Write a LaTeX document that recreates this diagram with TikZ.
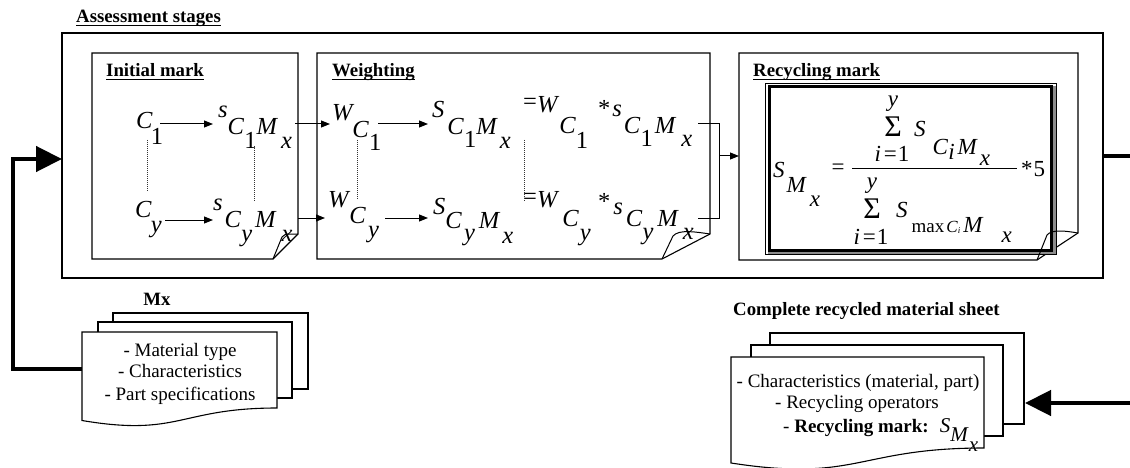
\documentclass[tikz,border=0pt]{standalone}
\usepackage{fontspec}
\setmainfont{Liberation Serif}
\usetikzlibrary{arrows.meta,calc}
\newcommand\lw[2][17pt]{\raisebox{-#1}{#2}}
\newcommand\iv[1]{\textit{#1}}
\begin{document}
\begin{tikzpicture}[x=1pt,y=-1pt,
  box/.style={line width=1.1pt, fill=white},
  frame/.style={line width=1.3pt},
  lbl/.style={font=\fontsize{18.8}{21}\selectfont\bfseries, inner sep=0pt, anchor=base west},
  uline/.style={line width=1.1pt},
  mth/.style={font=\fontsize{24.5}{28}\selectfont, inner sep=0pt, anchor=base west},
  fml/.style={font=\fontsize{23}{27}\selectfont, inner sep=0pt, anchor=base west},
  sig/.style={font=\fontsize{30}{33}\selectfont, inner sep=0pt, anchor=base},
  doct/.style={font=\fontsize{19}{22}\selectfont, inner sep=0pt, anchor=base},
  arr/.style={line width=1pt, -{Triangle[length=9pt,width=7pt]}},
  link/.style={line width=1pt},
  big/.style={line width=4.5pt, -{Triangle[length=26pt,width=25pt]}},
  dots/.style={line width=0.9pt, dash pattern=on 1pt off 1pt, black!80},
]
\useasboundingbox (0,0) rectangle (1130,468);
\clip (0,0) rectangle (1130,468);

% outer stage frame
\draw[frame] (62,33) rectangle (1103,278);
\node[lbl] (tAss) at (76,23) {Assessment stages};
\draw[uline] ([yshift=-2.5pt]tAss.base west) -- ([yshift=-2.5pt]tAss.base east);

% Initial mark box
\draw[box] (92,53) -- (298,53) -- (298,234) -- (273,259) -- (92,259) -- cycle;
\draw[link] (273,259) -- (282,237) .. controls (286,232) and (291,235) .. (298,234);
\node[lbl] (tIni) at (106,77) {Initial mark};
\draw[uline] ([yshift=-2.5pt]tIni.base west) -- ([yshift=-2.5pt]tIni.base east);

% Weighting box
\draw[box] (317,53) -- (710,53) -- (710,234) -- (662,259) -- (317,259) -- cycle;
\draw[link] (662,259) -- (673,236) .. controls (679,229) and (696,232) .. (710,234);
\node[lbl] (tWei) at (332,77) {Weighting};
\draw[uline] ([yshift=-2.5pt]tWei.base west) -- ([yshift=-2.5pt]tWei.base east);

% Recycling mark box
\draw[box] (739,53) -- (1078,53) -- (1078,233) -- (1037,260) -- (739,260) -- cycle;
\node[lbl] (tRec) at (753,77) {Recycling mark};
\draw[uline] ([yshift=-2.5pt]tRec.base west) -- ([yshift=-2.5pt]tRec.base east);
% formula frame
\draw[line width=0.8pt, fill=white] (765,83) rectangle (1056,254);
\fill[black!45] (1052.5,86) rectangle (1056,254);
\fill[black!45] (768,251.5) rectangle (1056,254);
\draw[line width=3pt] (769.2,87) rectangle (1051,250);
\draw[link] (1037,260) -- (1047,235) .. controls (1052,229) and (1066,231) .. (1078,233);

% ---- Initial mark contents
\node[mth] (c1) at (136,129) {\iv{C}\kern-2pt\lw[16pt]{1}};
\node[mth] (sc1) at (218,118) {\iv{s}\lw{\iv{C}\lw[14pt]{1}\iv{M}\kern3pt\lw[14pt]{\iv{x}}}};
\node[mth] (cy) at (135,217) {\iv{C}\kern-1pt\lw[15pt]{\iv{y}}};
\node[mth] (scy) at (213,211) {\iv{s}\kern2pt\lw{\iv{C}\lw[13pt]{\iv{y}}\kern3pt\iv{M}\kern5pt\lw[13pt]{\iv{x}}}};
\coordinate (a1s) at (160,124); \coordinate (a1e) at (213,124);
\coordinate (a2s) at (165,220); \coordinate (a2e) at (213,220);
\draw[arr] (a1s) -- (a1e);
\draw[arr] (a2s) -- (a2e);
\coordinate (d1s) at (147,140); \coordinate (d1e) at (147,192);
\coordinate (d2s) at (254,146); \coordinate (d2e) at (254,202);
\draw[dots] (d1s) -- (d1e);
\draw[dots] (d2s) -- (d2e);

% ---- Weighting contents
\node[mth] (wc1) at (332,121) {\iv{W}\kern-2pt\lw{\iv{C}\lw[13pt]{1}}};
\node[mth] (sw1) at (432,118) {\iv{S}\kern3pt\lw{\iv{C}\lw[13pt]{1}\iv{M}\kern2pt\lw[14pt]{\iv{x}}}};
\node[mth] (ew1) at (523,113) {\raisebox{3pt}{=}\iv{W}\lw[21pt]{\iv{C}\lw[15pt]{1}}};
\node[mth] (ss1) at (598,117) {*\kern2pt\iv{s}\kern2pt\lw{\iv{C}\lw[13pt]{1}\kern2pt\iv{M}\kern5pt\lw[13pt]{\iv{x}}}};
\node[mth] (wcy) at (328,207) {\iv{W}\kern-1pt\lw{\iv{C}\kern2pt\lw[14pt]{\iv{y}}}};
\node[mth] (swy) at (433,214) {\iv{S}\lw[14pt]{\iv{C}\kern2pt\lw[12pt]{\iv{y}}\kern4pt\iv{M}\kern2pt\lw[15pt]{\iv{x}}}};
\node[mth] (ewy) at (523,207) {\raisebox{2pt}{=}\iv{W}\kern3pt\lw[20pt]{\iv{C}\kern1pt\lw[13pt]{\iv{y}}}};
\node[mth] (ssy) at (598,214) {\raisebox{5pt}{*}\kern3pt\iv{s}\kern3pt\lw[13pt]{\iv{C}\lw[12pt]{\iv{y}}\kern4pt\iv{M}\kern4pt\lw[12pt]{\iv{x}}}};
\coordinate (w1s) at (378,124); \coordinate (w1e) at (428,124);
\coordinate (w2s) at (385,218); \coordinate (w2e) at (428,218);
\draw[arr] (w1s) -- (w1e);
\draw[arr] (w2s) -- (w2e);
\coordinate (d3s) at (357,140); \coordinate (d3e) at (357,200);
\coordinate (d4s) at (524,140); \coordinate (d4e) at (524,202);
\draw[dots] (d3s) -- (d3e);
\draw[dots] (d4s) -- (d4e);

% initial -> weighting
\coordinate (iw1s) at (295,124); \coordinate (iw1e) at (330,124);
\coordinate (iw2s) at (298,218); \coordinate (iw2e) at (325,218);
\draw[arr] (iw1s) -- (iw1e);
\draw[arr] (iw2s) -- (iw2e);

% bracket -> recycling mark
\coordinate (b1) at (698,124); \coordinate (b2) at (698,218);
\coordinate (bm) at (719,156); \coordinate (rIn) at (739,156);
\draw[link] (b1) -- (719,124) -- (719,218) -- (b2);
\draw[arr] (bm) -- (rIn);

% ---- Recycling formula
\node[fml] (smx) at (773,177) {\iv{S}\kern2pt\lw[15pt]{\iv{M}\kern3pt\lw[14pt]{\iv{x}}}};
\node[fml, anchor=center] (eqs) at (838,169.5) {=};
\coordinate (fb1) at (852,168); \coordinate (fb2) at (1017,168);
\draw[line width=0.9pt] (fb1) -- (fb2);
\node[fml] (five) at (1021,176) {*\kern1pt5};
% numerator
\node[fml, anchor=base] (ny) at (893,107) {\iv{y}};
\node[sig] (nsig) at (893,137) {Σ};
\node[fml, anchor=base] (ni) at (892,162) {\iv{i}\kern3pt=\kern1pt1};
\node[fml] (ns) at (914,137) {\iv{S}\kern7pt\lw[18pt]{\iv{C}\lw[5pt]{\iv{i}}\kern3pt\iv{M}\kern2pt\lw[11pt]{\iv{x}}}};
% denominator
\node[fml, anchor=base] (dy) at (872,188) {\iv{y}};
\node[sig] (dsig) at (872,218) {Σ};
\node[fml, anchor=base] (di) at (871,244) {\iv{i}\kern3pt=\kern1pt1};
\node[fml] (ds) at (896,217) {\iv{S}\kern4pt\lw[15pt]{{\fontsize{19}{21}\selectfont max}\kern2pt{\fontsize{17}{19}\selectfont\iv{C}}\lw[1pt]{\fontsize{9}{10}\selectfont\iv{i}}\kern3pt\iv{M}\kern18pt\lw[10pt]{\iv{x}}}};

% ---- Mx document stack
\node[lbl, anchor=base] (mxlab) at (157,305) {Mx};
\draw[box] (113,313) rectangle (308,389);
\draw[box] (98,322) rectangle (292,398);
\draw[box] (82,332) -- (277,332) -- (277,408) .. controls (179.5,408) and (179.5,437) .. (82,420.5) -- cycle;
\node[doct] (mx1) at (180,356) {- Material type};
\node[doct] (mx2) at (180,377) {- Characteristics};
\node[doct] (mx3) at (180,400) {- Part specifications};

% ---- Complete sheet stack
\node[lbl] (cplab) at (733,315) {Complete recycled material sheet};
\draw[box] (770,333) rectangle (1024,424);
\draw[box] (751,345) rectangle (1003,436);
\draw[box] (731,357) -- (984,357) -- (984,448) .. controls (857.5,448) and (857.5,482.6) .. (731,463) -- cycle;
\node[doct] (cp1) at (858,387) {- Characteristics (material, part)};
\node[doct] (cp2) at (857,408) {- Recycling operators};
\node[doct, anchor=base west] (cp3) at (783,432) {- \textbf{Recycling mark:}\kern11pt{\fontsize{21}{24}\selectfont\iv{S}\lw[9pt]{\iv{M}\lw[10pt]{\iv{x}}}}};

% ---- thick connectors
\coordinate (mxL) at (82,369); \coordinate (inL) at (62,159);
\draw[big] (mxL) -- (13,369) |- (inL);
\coordinate (outR) at (1103,156); \coordinate (cpR) at (1025,403);
\draw[big] (outR) -- (1150,156) |- (cpR);
\end{tikzpicture}
\end{document}
